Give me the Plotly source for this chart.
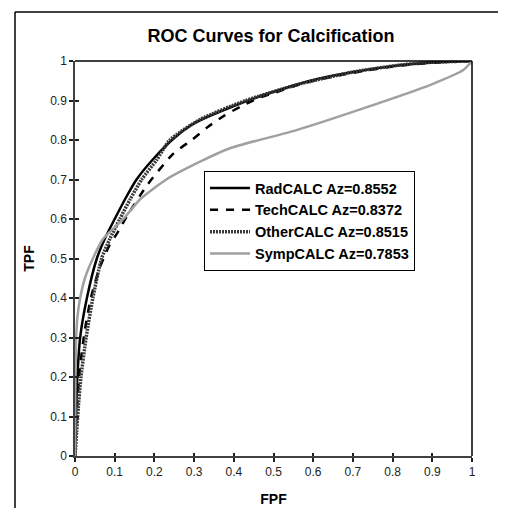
import plotly.graph_objects as go

# ---- data ----
rad_fpf = [0, 0.003, 0.006, 0.013, 0.03, 0.055, 0.075, 0.1, 0.126, 0.155, 0.2, 0.25, 0.3, 0.4, 0.5, 0.6, 0.7, 0.8, 0.9, 1.0]
rad_tpf = [0, 0.12, 0.2, 0.3, 0.4, 0.5, 0.55, 0.6, 0.65, 0.7, 0.755, 0.805, 0.842, 0.886, 0.922, 0.952, 0.972, 0.987, 0.996, 1.0]

tech_fpf = [0, 0.005, 0.012, 0.025, 0.04, 0.06, 0.085, 0.11, 0.13, 0.182, 0.247, 0.294, 0.336, 0.378, 0.42, 0.462, 0.504, 0.584, 0.7, 0.8, 0.9, 1.0]
tech_tpf = [0, 0.12, 0.22, 0.32, 0.4, 0.47, 0.53, 0.57, 0.606, 0.686, 0.765, 0.80, 0.834, 0.863, 0.886, 0.906, 0.92, 0.946, 0.97, 0.986, 0.996, 1.0]

other_fpf = [0, 0.004, 0.008, 0.015, 0.028, 0.045, 0.067, 0.088, 0.113, 0.139, 0.168, 0.206, 0.239, 0.315, 0.43, 0.567, 0.7, 0.82, 0.9, 1.0]
other_tpf = [0, 0.06, 0.12, 0.2, 0.3, 0.4, 0.5, 0.55, 0.6, 0.65, 0.7, 0.75, 0.8, 0.852, 0.9, 0.942, 0.972, 0.99, 0.997, 1.0]

symp_fpf = [0, 0.001, 0.003, 0.006, 0.013, 0.025, 0.045, 0.071, 0.122, 0.164, 0.23, 0.315, 0.39, 0.558, 0.726, 0.894, 0.978, 0.995, 1.0]
symp_tpf = [0, 0.2, 0.3, 0.35, 0.4, 0.45, 0.5, 0.55, 0.6, 0.65, 0.7, 0.745, 0.779, 0.825, 0.88, 0.939, 0.977, 0.994, 1.0]

names = ["RadCALC Az=0.8552", "TechCALC Az=0.8372", "OtherCALC Az=0.8515", "SympCALC Az=0.7853"]
title_text = "ROC Curves for Calcification"
x_title = "FPF"
y_title = "TPF"

FONT = "Arial, Liberation Sans, sans-serif"

fig = go.Figure()
fig.add_trace(go.Scatter(x=rad_fpf, y=rad_tpf, mode="lines", name="<b>" + names[0] + "</b>",
                         line=dict(color="black", width=2.5, shape="spline", smoothing=0.6)))
fig.add_trace(go.Scatter(x=tech_fpf, y=tech_tpf, mode="lines", name="<b>" + names[1] + "</b>",
                         line=dict(color="black", width=2.5, dash="8px,8px", shape="spline", smoothing=0.6)))
fig.add_trace(go.Scatter(x=other_fpf, y=other_tpf, mode="lines", name="<b>" + names[2] + "</b>",
                         line=dict(color="#3a3a3a", width=3.5, dash="2px,1px", shape="spline", smoothing=0.6)))
fig.add_trace(go.Scatter(x=symp_fpf, y=symp_tpf, mode="lines", name="<b>" + names[3] + "</b>",
                         line=dict(color="#a0a0a0", width=2.5, shape="spline", smoothing=0.6)))

# figure sits at the page's 8px body margin: figure coords = reference coords - 8
W, H = 490, 500
L, R, T, B = 67, 464, 53, 448

def px_x(p):
    return (p - L) / (R - L)

def px_y(p):
    return (B - p) / (B - T)

axis_common = dict(range=[0, 1], dtick=0.1, tick0=0, showgrid=False, zeroline=False,
                   showline=True, linecolor="#404040", linewidth=1.5,
                   tickcolor="#202020", tickwidth=1.5, automargin=False,
                   tickfont=dict(family=FONT, size=12, color="#222222"))

fig.update_layout(
    width=W, height=H,
    margin=dict(l=L, r=W - R, t=T, b=H - B, autoexpand=False),
    paper_bgcolor="white", plot_bgcolor="white",
    modebar=dict(bgcolor="rgba(0,0,0,0)", color="rgba(0,0,0,0)", activecolor="rgba(0,0,0,0)"),
    title=dict(text="<b>" + title_text + "</b>", x=px_x(263), xref="paper",
               y=1 - 27.5 / H, yref="container", xanchor="center", yanchor="middle",
               font=dict(family=FONT, size=18, color="black")),
    xaxis=dict(**axis_common, ticks="outside", ticklen=4,
               title=dict(text="<b>" + x_title + "</b>", standoff=16,
                          font=dict(family=FONT, size=14, color="black"))),
    yaxis=dict(**axis_common, ticks="outside", ticklen=4,
               title=dict(text="<b>" + y_title + "</b>", standoff=12,
                          font=dict(family=FONT, size=14, color="black"))),
    xaxis2=dict(range=[0, 1], dtick=0.1, tick0=0, overlaying="x", anchor="y", side="bottom",
                showgrid=False, zeroline=False, showline=False, ticks="inside", ticklen=3,
                tickcolor="#202020", tickwidth=1.5, showticklabels=False, automargin=False),
    yaxis2=dict(range=[0, 1], dtick=0.1, tick0=0, overlaying="y", anchor="x", side="left",
                showgrid=False, zeroline=False, showline=False, ticks="inside", ticklen=4,
                tickcolor="#202020", tickwidth=1.5, showticklabels=False, automargin=False),
    legend=dict(x=px_x(196), y=px_y(163), xanchor="left", yanchor="top",
                bgcolor="white", bordercolor="black", borderwidth=1,
                font=dict(family=FONT, size=14.5, color="black"),
                itemwidth=40, tracegroupgap=0),
    showlegend=True,
)

# invisible helper trace so the overlay axes are drawn
fig.add_trace(go.Scatter(x=[0], y=[0], xaxis="x2", yaxis="y2", mode="markers",
                         marker=dict(opacity=0), showlegend=False, hoverinfo="skip"))

# plot-area border (top and right) and outer frame
fig.add_shape(type="line", xref="paper", yref="paper", x0=0, y0=1, x1=1, y1=1,
              line=dict(color="black", width=1.5))
fig.add_shape(type="line", xref="paper", yref="paper", x0=1, y0=1, x1=1, y1=0,
              line=dict(color="black", width=1.5))
fig.add_shape(type="line", xref="paper", yref="paper", x0=px_x(7), y0=px_y(4), x1=px_x(W), y1=px_y(4),
              line=dict(color="black", width=1.5))
fig.add_shape(type="line", xref="paper", yref="paper", x0=px_x(7), y0=px_y(4), x1=px_x(7), y1=px_y(H),
              line=dict(color="black", width=1.5))

fig.write_html("out.html")
